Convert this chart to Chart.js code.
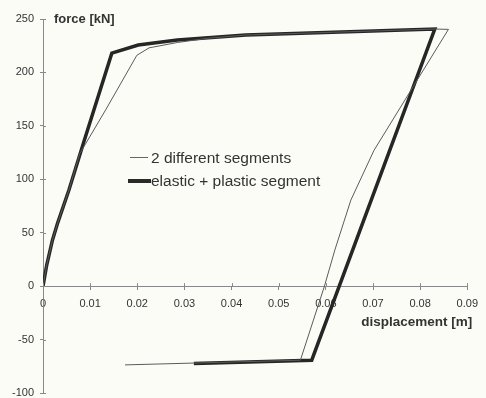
<!DOCTYPE html>
<html>
<head>
<meta charset="utf-8">
<script src="https://cdn.jsdelivr.net/npm/chart.js@4"></script>
<style>
  html, body { margin: 0; padding: 0; background: #fcfcf7; }
  #wrap { position: relative; width: 486px; height: 398px; }
  #legend { position: absolute; left: 127px; top: 146px; font: 15.5px Arial, "Liberation Sans", sans-serif; color: #333; }
  .row { display: flex; align-items: center; height: 23px; }
  .key { width: 24px; display: flex; justify-content: flex-end; }
  .thin { width: 18px; height: 1px; background: #666; margin-right: 3px; }
  .thick { width: 23px; height: 4px; background: #2a2a2a; }
</style>
</head>
<body>
<div id="wrap">
  <canvas id="loopChart" width="486" height="398"></canvas>
  <div id="legend">
    <div class="row"><span class="key"><span class="thin"></span></span><span>2 different segments</span></div>
    <div class="row"><span class="key"><span class="thick"></span></span><span>elastic + plastic segment</span></div>
  </div>
</div>
<script>
// displacement [m] / force [kN]
const twoSegX = [0, 0.0008, 0.002, 0.0031, 0.0055, 0.0078, 0.0133, 0.0199, 0.0225, 0.0285, 0.035, 0.043, 0.0831, 0.086, 0.0785, 0.0702, 0.0653, 0.0619, 0.0597, 0.0546, 0.0174];
const twoSegY = [0, 20, 43, 59, 90, 124, 165, 216, 223, 228, 232, 235, 240.6, 240.3, 186.6, 127, 80.5, 33.7, 0, -69.3, -73.7];

const elastPlastX = [0, 0.0008, 0.002, 0.0031, 0.0055, 0.0088, 0.0146, 0.0202, 0.0285, 0.043, 0.0831, 0.0570, 0.032];
const elastPlastY = [0, 20, 43, 59, 90, 137, 218, 225.6, 230.3, 235, 240.6, -69.3, -72.5];

const xTicks = [0, 0.01, 0.02, 0.03, 0.04, 0.05, 0.06, 0.07, 0.08, 0.09];
const yTicks = [-100, -50, 0, 50, 100, 150, 200, 250];

function toPoints(xs, ys) {
    return xs.map((x, i) => ({ x: x, y: ys[i] }));
}

Chart.defaults.font.family = 'Arial, "Liberation Sans", sans-serif';
Chart.defaults.color = '#333';

// axis titles sit at the ends of the axes, not centred
const axisTitles = {
    id: 'axisTitles',
    afterDraw(chart) {
        const ctx = chart.ctx;
        const xs = chart.scales.x;
        const ys = chart.scales.y;
        ctx.save();
        ctx.fillStyle = '#333';
        ctx.font = 'bold 13px Arial, "Liberation Sans", sans-serif';
        ctx.textBaseline = 'middle';
        ctx.textAlign = 'left';
        ctx.fillText('force [kN]', xs.getPixelForValue(0) + 11, ys.getPixelForValue(250));
        ctx.font = 'bold 13.5px Arial, "Liberation Sans", sans-serif';
        ctx.textAlign = 'right';
        ctx.fillText('displacement [m]', xs.getPixelForValue(0.09) + 5, ys.getPixelForValue(0) + 36);
        ctx.restore();
    }
};

// tick marks cross the axis: add the inner half
const innerTicks = {
    id: 'innerTicks',
    afterDraw(chart) {
        const ctx = chart.ctx;
        const xs = chart.scales.x;
        const ys = chart.scales.y;
        const y0 = ys.getPixelForValue(0);
        const x0 = xs.getPixelForValue(0);
        ctx.save();
        ctx.strokeStyle = '#888';
        ctx.lineWidth = 1;
        ctx.beginPath();
        xTicks.forEach(v => {
            const px = Math.round(xs.getPixelForValue(v)) + 0.5;
            ctx.moveTo(px, y0 - 3);
            ctx.lineTo(px, y0);
        });
        yTicks.forEach(v => {
            const py = Math.round(ys.getPixelForValue(v)) + 0.5;
            ctx.moveTo(x0, py);
            ctx.lineTo(x0 + 3, py);
        });
        ctx.stroke();
        ctx.restore();
    }
};

const ctx = document.getElementById('loopChart').getContext('2d');
new Chart(ctx, {
    type: 'scatter',
    data: {
        datasets: [{
            label: '2 different segments',
            data: toPoints(twoSegX, twoSegY),
            showLine: true,
            borderColor: '#5a5a5a',
            borderWidth: 1,
            pointRadius: 0,
            tension: 0
        }, {
            label: 'elastic + plastic segment',
            data: toPoints(elastPlastX, elastPlastY),
            showLine: true,
            borderColor: '#262626',
            borderWidth: 3.5,
            pointRadius: 0,
            tension: 0,
            borderJoinStyle: 'miter'
        }]
    },
    options: {
        responsive: false,
        animation: false,
        layout: { padding: { top: 19, right: 10, bottom: 5, left: 0 } },
        plugins: {
            legend: { display: false },
            tooltip: { enabled: false }
        },
        scales: {
            x: {
                type: 'linear',
                position: { y: 0 },
                min: 0,
                max: 0.09,
                afterBuildTicks: s => { s.ticks = xTicks.map(v => ({ value: v })); },
                afterFit: s => { s.height = 0; },
                grid: { drawOnChartArea: false, tickLength: 3, color: '#888' },
                border: { color: '#888', width: 1 },
                ticks: {
                    padding: 8,
                    maxRotation: 0,
                    autoSkip: false,
                    font: { size: 11 },
                    callback: v => String(Math.round(v * 100) / 100)
                }
            },
            y: {
                type: 'linear',
                position: 'left',
                min: -100,
                max: 250,
                afterBuildTicks: s => { s.ticks = yTicks.map(v => ({ value: v })); },
                afterFit: s => { s.width = 43; s.paddingTop = 0; s.paddingBottom = 0; },
                grid: { drawOnChartArea: false, tickLength: 3, color: '#888' },
                border: { color: '#888', width: 1 },
                ticks: { padding: 6, font: { size: 11 } }
            }
        }
    },
    plugins: [axisTitles, innerTicks]
});
</script>
</body>
</html>
